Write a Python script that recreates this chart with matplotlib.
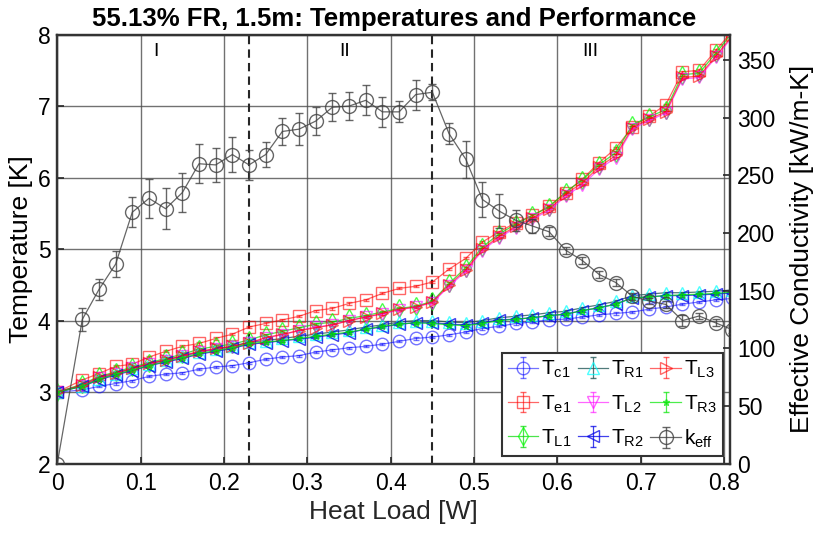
import matplotlib
matplotlib.use("Agg")
import matplotlib.pyplot as plt

plt.rcParams['font.family'] = ['Liberation Sans', 'DejaVu Sans']
plt.rcParams['mathtext.fontset'] = 'custom'
plt.rcParams['mathtext.rm'] = 'Liberation Sans'
plt.rcParams['mathtext.it'] = 'Liberation Sans:italic'

# ---------------- data ----------------
heat_load = [0, 0.03, 0.05, 0.07, 0.09, 0.11, 0.13, 0.15, 0.17, 0.19, 0.21, 0.23, 0.25, 0.27,
             0.29, 0.31, 0.33, 0.35, 0.37, 0.39, 0.41, 0.43, 0.45, 0.47, 0.49, 0.51, 0.53,
             0.55, 0.57, 0.59, 0.61, 0.63, 0.65, 0.67, 0.69, 0.71, 0.73, 0.75, 0.77, 0.79, 0.81]

T_c1 = [3.00, 3.03, 3.08, 3.12, 3.16, 3.22, 3.25, 3.27, 3.32, 3.35, 3.37, 3.41, 3.46, 3.49,
        3.51, 3.56, 3.59, 3.62, 3.64, 3.67, 3.71, 3.75, 3.77, 3.80, 3.84, 3.89, 3.92, 3.96,
        3.98, 4.01, 4.02, 4.05, 4.08, 4.10, 4.12, 4.16, 4.19, 4.23, 4.26, 4.29, 4.31]
T_e1 = [3.00, 3.17, 3.26, 3.36, 3.39, 3.49, 3.57, 3.64, 3.68, 3.75, 3.81, 3.91, 3.96, 4.01,
        4.06, 4.14, 4.17, 4.24, 4.29, 4.38, 4.45, 4.48, 4.54, 4.72, 4.87, 5.10, 5.24, 5.37,
        5.47, 5.60, 5.79, 5.98, 6.21, 6.41, 6.71, 6.86, 7.02, 7.48, 7.50, 7.78, 8.05]
T_L1 = [3.00, 3.11, 3.22, 3.28, 3.35, 3.41, 3.47, 3.53, 3.60, 3.64, 3.67, 3.73, 3.80, 3.85,
        3.90, 3.95, 3.98, 4.03, 4.07, 4.12, 4.17, 4.20, 4.27, 4.52, 4.74, 5.03, 5.21, 5.35,
        5.47, 5.59, 5.80, 5.97, 6.18, 6.35, 6.74, 6.85, 6.95, 7.44, 7.46, 7.74, 8.03]
T_R1 = [3.00, 3.09, 3.19, 3.26, 3.33, 3.39, 3.45, 3.50, 3.56, 3.60, 3.64, 3.70, 3.72, 3.75,
        3.78, 3.81, 3.84, 3.87, 3.91, 3.94, 3.98, 4.00, 4.00, 3.98, 3.97, 4.00, 4.04, 4.06,
        4.08, 4.11, 4.13, 4.18, 4.22, 4.27, 4.35, 4.37, 4.39, 4.39, 4.40, 4.41, 4.43]
T_L2 = [3.00, 3.09, 3.20, 3.26, 3.33, 3.39, 3.44, 3.50, 3.56, 3.60, 3.63, 3.68, 3.76, 3.80,
        3.86, 3.91, 3.94, 4.00, 4.05, 4.09, 4.15, 4.19, 4.25, 4.48, 4.69, 4.98, 5.16, 5.30,
        5.42, 5.54, 5.74, 5.90, 6.12, 6.28, 6.68, 6.80, 6.90, 7.38, 7.40, 7.68, 7.97]
T_R2 = [3.00, 3.08, 3.17, 3.24, 3.30, 3.37, 3.42, 3.47, 3.53, 3.57, 3.61, 3.67, 3.69, 3.72,
        3.74, 3.77, 3.80, 3.83, 3.88, 3.91, 3.95, 3.97, 3.97, 3.95, 3.94, 3.97, 4.01, 4.02,
        4.04, 4.07, 4.09, 4.14, 4.18, 4.23, 4.32, 4.33, 4.35, 4.35, 4.36, 4.37, 4.39]
T_L3 = [3.00, 3.10, 3.21, 3.27, 3.33, 3.40, 3.45, 3.51, 3.57, 3.61, 3.64, 3.69, 3.76, 3.81,
        3.86, 3.90, 3.94, 4.00, 4.05, 4.10, 4.16, 4.19, 4.26, 4.50, 4.71, 5.00, 5.18, 5.32,
        5.44, 5.56, 5.77, 5.93, 6.15, 6.31, 6.70, 6.82, 6.92, 7.40, 7.42, 7.70, 7.99]
T_R3 = [3.00, 3.08, 3.18, 3.25, 3.31, 3.37, 3.43, 3.48, 3.54, 3.58, 3.62, 3.68, 3.70, 3.72,
        3.75, 3.78, 3.81, 3.84, 3.88, 3.92, 3.95, 3.97, 3.96, 3.94, 3.93, 3.96, 4.00, 4.02,
        4.04, 4.07, 4.09, 4.14, 4.18, 4.23, 4.32, 4.33, 4.35, 4.36, 4.37, 4.38, 4.40]
T_err = [0.0, 0.015, 0.015, 0.015, 0.015, 0.015, 0.015, 0.015, 0.015, 0.015, 0.015, 0.015,
         0.015, 0.015, 0.015, 0.015, 0.015, 0.015, 0.015, 0.015, 0.015, 0.015, 0.015, 0.015,
         0.015, 0.015, 0.015, 0.015, 0.015, 0.015, 0.015, 0.015, 0.015, 0.015, 0.015, 0.015,
         0.015, 0.015, 0.015, 0.015, 0.015]

k_eff = [0, 125, 151, 173, 218, 230, 221, 235, 260, 259, 268, 259, 268, 288, 290, 297, 309,
         310, 315, 305, 305, 320, 322, 286, 264, 229, 219, 211, 206, 201, 185, 176, 164, 157,
         145, 141, 138, 124, 128, 122, 116]
k_err = [0, 10, 9, 11, 13, 17, 18, 17, 17, 15, 15, 13, 11, 12, 14, 12, 12, 12, 13, 13, 9, 13,
         7, 9, 16, 15, 15, 9, 6, 4, 3, 3, 3, 3, 3, 3, 3, 5, 3, 3, 3]

region_labels = ['I', 'II', 'III']
region_x = [0.118, 0.345, 0.64]
region_bounds = [0.23, 0.45]

series = [
    (T_c1, r'T$_{\rm c1}$', 'o', (0.0, 0.0, 1.0, 0.55), (0.0, 0.0, 1.0, 0.55)),
    (T_e1, r'T$_{\rm e1}$', 's', (1.0, 0.0, 0.0, 0.6), (1.0, 0.0, 0.0, 0.6)),
    (T_L1, r'T$_{\rm L1}$', 'd', (0.0, 0.85, 0.0, 0.7), (0.0, 1.0, 0.0, 0.7)),
    (T_R1, r'T$_{\rm R1}$', '^', (0.15, 0.35, 0.35, 0.8), (0.0, 1.0, 1.0, 0.7)),
    (T_L2, r'T$_{\rm L2}$', 'v', (1.0, 0.0, 1.0, 0.6), (1.0, 0.0, 1.0, 0.6)),
    (T_R2, r'T$_{\rm R2}$', '<', (0.0, 0.0, 0.9, 0.75), (0.0, 0.0, 0.9, 0.75)),
    (T_L3, r'T$_{\rm L3}$', '>', (1.0, 0.0, 0.0, 0.6), (1.0, 0.0, 0.0, 0.6)),
    (T_R3, r'T$_{\rm R3}$', '*', (0.0, 0.9, 0.0, 0.7), (0.0, 0.9, 0.0, 0.7)),
]

# ---------------- figure ----------------
fig = plt.figure(figsize=(8.15, 5.38), dpi=100)
ax = fig.add_axes([0.0703, 0.1383, 0.8254, 0.7974])
ax2 = ax.twinx()

handles = []
for vals, lab, mk, lc, mc in series:
    ms = 5 if mk == '*' else 9
    h = ax.errorbar(heat_load, vals, yerr=T_err, fmt='-', marker=mk, color=lc,
                    mec=mc, mfc='none', ms=ms, lw=0.9, elinewidth=0.9, capsize=2,
                    ecolor=lc, label=lab, zorder=3)
    handles.append(h)

hk = ax2.errorbar(heat_load, k_eff, yerr=k_err, fmt='-', marker='o', color=(0.25, 0.25, 0.25, 0.8),
                  mec=(0.25, 0.25, 0.25, 0.8), mfc='none', ms=10, lw=0.9, elinewidth=1.0,
                  capsize=3, ecolor=(0.25, 0.25, 0.25, 0.8), label=r'k$_{\rm eff}$', zorder=3)
handles.append(hk)

for xb in region_bounds:
    ax.axvline(xb, color='0.15', ls=(0, (4, 2.5)), lw=1.5, zorder=2)

for xt, lab in zip(region_x, region_labels):
    ax.text(xt, 7.77, lab, ha='center', va='center', fontsize=14)

ax.set_xlim(0, 0.807)
ax.set_ylim(2, 8)
ax2.set_ylim(0, 372)
ax.set_xticks([0, 0.1, 0.2, 0.3, 0.4, 0.5, 0.6, 0.7, 0.8])
ax.set_xticklabels(['0', '0.1', '0.2', '0.3', '0.4', '0.5', '0.6', '0.7', '0.8'])
ax.set_yticks([2, 3, 4, 5, 6, 7, 8])
ax2.set_yticks([0, 50, 100, 150, 200, 250, 300, 350])

ax.grid(True, color='0.3', lw=1.0, alpha=0.8, zorder=0)
ax.set_axisbelow(True)

for a in (ax, ax2):
    a.tick_params(direction='in', length=5, width=1.2, labelsize=16.5, colors='0.15',
                  labelcolor='black')
    for s in a.spines.values():
        s.set_linewidth(1.6)
        s.set_color('0.2')
ax.tick_params(axis='x', pad=6)
ax.tick_params(axis='y', pad=5)
ax2.tick_params(axis='y', pad=5)

ax.set_xlabel('Heat Load [W]', fontsize=19, color='0.15', labelpad=4)
ax.set_ylabel('Temperature [K]', fontsize=19, labelpad=3)
ax2.set_ylabel('Effective Conductivity [kW/m-K]', fontsize=19, labelpad=11)
ax.set_title('55.13% FR, 1.5m: Temperatures and Performance', fontsize=18.5,
             fontweight='bold', pad=6)

leg = ax2.legend(handles=handles, ncol=3, loc='lower right', fontsize=15,
                 frameon=True, fancybox=False, edgecolor='0.2', framealpha=1,
                 handlelength=1.45, handletextpad=0.15, columnspacing=0.3,
                 labelspacing=0.62, borderpad=0.3, borderaxespad=0,
                 bbox_to_anchor=(0.9896, 0.0177))
leg.get_frame().set_linewidth(1.5)

fig.savefig('out.png', dpi=100)
